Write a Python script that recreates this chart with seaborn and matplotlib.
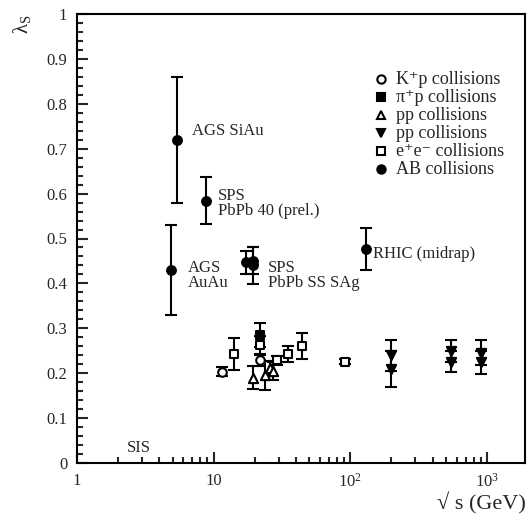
import numpy as np
import pandas as pd
import matplotlib
matplotlib.use("Agg")
import matplotlib.pyplot as plt
import seaborn as sns
from matplotlib.ticker import FixedLocator, MultipleLocator, NullFormatter

# ---- data ----
kp_x = [11.5, 21.7]
kp_y = [0.203, 0.229]
kp_e = [0.010, 0.012]

pip_x = [21.7]
pip_y = [0.285]
pip_e = [0.026]

pp_x = [19.4, 23.8, 26.0, 27.4]
pp_y = [0.190, 0.195, 0.212, 0.205]
pp_e = [0.025, 0.032, 0.015, 0.020]

ppbar_x = [200, 200, 546, 546, 900, 900]
ppbar_y = [0.240, 0.210, 0.250, 0.226, 0.246, 0.224]
ppbar_e = [0.034, 0.040, 0.024, 0.024, 0.028, 0.026]

ee_x = [14.0, 22.0, 29.0, 34.8, 44.0, 91.2]
ee_y = [0.243, 0.263, 0.229, 0.243, 0.261, 0.226]
ee_e = [0.036, 0.020, 0.010, 0.017, 0.029, 0.005]

ab_x = [5.4, 8.77, 4.86, 17.3, 19.4, 19.4, 130]
ab_y = [0.720, 0.584, 0.430, 0.447, 0.440, 0.450, 0.477]
ab_e = [0.140, 0.052, 0.100, 0.025, 0.042, 0.030, 0.047]

legend_labels = ["K\u207ap collisions", "\u03c0\u207ap collisions", "pp collisions",
                 "pp collisions", "e\u207ae\u207b collisions", "AB collisions"]

annotations = [("AGS SiAu", 6.95, 0.740), ("SPS\nPbPb 40 (prel.)", 10.7, 0.578),
               ("AGS\nAuAu", 6.5, 0.418), ("SPS\nPbPb SS SAg", 25.0, 0.418),
               ("RHIC (midrap)", 146, 0.465), ("SIS", 2.3, 0.033)]

x_ticks = [1, 10, 100, 1000]
x_ticklabels = ["1", "10", "10$^{2}$", "10$^{3}$"]

# ---- style ----
sns.set_style("ticks")
plt.rcParams["font.family"] = ["Liberation Serif", "DejaVu Serif"]
plt.rcParams["mathtext.fontset"] = "custom"
plt.rcParams["mathtext.rm"] = "Liberation Serif"
plt.rcParams["mathtext.it"] = "Liberation Serif:italic"
plt.rcParams["mathtext.default"] = "regular"

W, H = 532, 521
fig = plt.figure(figsize=(W / 100, H / 100), dpi=100)
ax = fig.add_axes([77/W, 1-463/H, (525-77)/W, (463-14)/H])

series = [
    (kp_x, kp_y, kp_e, "o", "white", 38),
    (pip_x, pip_y, pip_e, "s", "black", 34),
    (pp_x, pp_y, pp_e, "^", "white", 44),
    (ppbar_x, ppbar_y, ppbar_e, "v", "black", 44),
    (ee_x, ee_y, ee_e, "s", "white", 40),
    (ab_x, ab_y, ab_e, "o", "black", 40),
]

for i, ((xs, ys, es, mk, fc, sz), lab) in enumerate(zip(series, legend_labels)):
    df = pd.DataFrame({"x": xs, "y": ys, "e": es})
    ax.errorbar(df["x"], df["y"], yerr=df["e"], fmt="none", ecolor="black",
                elinewidth=1.5, capsize=4, capthick=1.5, zorder=2)
    sns.scatterplot(data=df, x="x", y="y", ax=ax, marker=mk, s=sz,
                    facecolor=fc, edgecolor="black", linewidth=1.5, zorder=3)
    # legend row (manual layout for even row spacing)
    row_y = 1 - (79 + 18.0 * i) / H
    fig.add_artist(plt.Line2D([381 / W], [row_y], ls="none", marker=mk, markersize=6,
                              markerfacecolor=fc, markeredgecolor="black",
                              markeredgewidth=1.5, transform=fig.transFigure))
    fig.text(396 / W, row_y - 5 / H, lab, fontsize=13, ha="left", va="baseline")

ax.set_xscale("log")
ax.set_xlim(1, 1900)
ax.set_ylim(0, 1)

ax.xaxis.set_major_locator(FixedLocator(x_ticks))
ax.set_xticklabels(x_ticklabels)
ax.xaxis.set_minor_locator(FixedLocator([m * d for d in [1, 10, 100, 1000] for m in range(2, 10) if m * d < 1900]))
ax.xaxis.set_minor_formatter(NullFormatter())
ax.set_yticks(np.round(np.arange(0, 1.01, 0.1), 1))
ax.set_yticklabels(["0"] + [f"{v:.1f}" for v in np.arange(0.1, 0.95, 0.1)] + ["1"])
ax.yaxis.set_minor_locator(MultipleLocator(0.02))

ax.tick_params(axis="both", which="major", direction="in", length=8, width=1.5,
               labelsize=12, top=False, right=False, pad=7)
ax.tick_params(axis="both", which="minor", direction="in", length=4, width=1.5,
               top=False, right=False)
for sp in ax.spines.values():
    sp.set_linewidth(1.5)
    sp.set_color("black")

ax.set_xlabel("")
ax.set_ylabel("")
fig.text(526/W, 1-503/H, "\u221a s (GeV)", fontsize=16, ha="right", va="center")
fig.text(22/W, 1-24/H, "$\\lambda_{S}$", fontsize=15, ha="center", va="center", rotation=90)

for txt, x, y in annotations:
    ax.text(x, y, txt, fontsize=12, ha="left", va="center", linespacing=0.9)

fig.savefig("out.png", dpi=100)
